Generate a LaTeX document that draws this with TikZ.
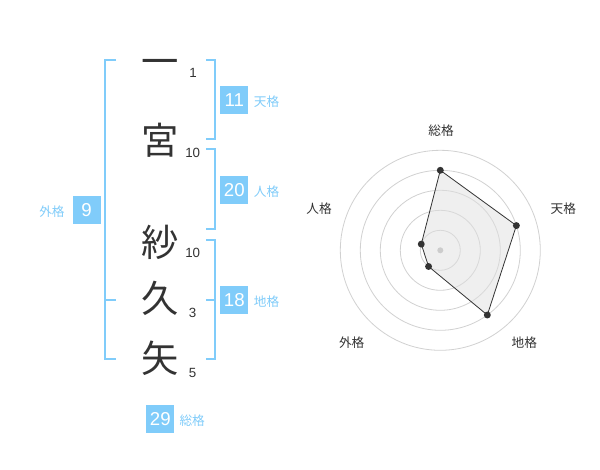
\documentclass[tikz,border=0pt]{standalone}
\usepackage{fontspec}
\setmainfont{Liberation Sans}
\newfontfamily\jpfont{Noto Sans CJK JP}
\usetikzlibrary{positioning}
\definecolor{kakublue}{RGB}{128,204,250}
\definecolor{inkgray}{RGB}{51,51,51}
\tikzset{
	name_char/.style = {
		font=\jpfont\fontsize{28}{28}\selectfont,
		text=inkgray,
		inner sep=0pt,
		text height=24.6pt,
		text depth=3.4pt
	},
	stroke_num/.style = {
		font=\fontsize{10}{10}\selectfont,
		text=inkgray,
		inner sep=0pt
	},
	kaku_box/.style = {
		fill=kakublue,
		text=white,
		inner sep=0pt,
		minimum width=21pt,
		minimum height=21pt,
		font=\fontsize{14}{14}\selectfont
	},
	kaku_label/.style = {
		font=\jpfont\fontsize{9.5}{10}\selectfont,
		text=kakublue,
		inner sep=0pt
	},
	bracket/.style = {
		draw=kakublue,
		line width=1.5pt
	},
	ring/.style = {
		draw=black!18,
		line width=0.6pt
	},
	radar_area/.style = {
		fill=black!12,
		fill opacity=0.5,
		draw=inkgray,
		line width=0.6pt
	},
	radar_dot/.style = {
		circle,
		fill=inkgray,
		inner sep=0pt,
		minimum size=5.2pt
	},
	radar_hub/.style = {
		radar_dot,
		fill=black!20,
		minimum size=4.5pt
	},
	radar_label/.style = {
		font=\jpfont\fontsize{9.5}{10}\selectfont,
		text=inkgray,
		inner sep=0pt,
		text height=8.4pt,
		text depth=1.1pt
	},
}

\begin{document}
\begin{tikzpicture}[x=0.75pt,y=-0.75pt]
\fill [white] (0,0) rectangle (600,470);
\useasboundingbox (0,0) rectangle (600,470);

\node [name_char] (c1) at (160,61) {一};
\node [name_char] (c2) at (160,140) {宮};
\node [name_char] (c3) at (160,242) {紗};
\node [name_char] (c4) at (160,298) {久};
\node [name_char] (c5) at (160,358) {矢};

\node [stroke_num] (s1) at (193,73) {1};
\node [stroke_num] (s2) at (192.7,153.3) {10};
\node [stroke_num] (s3) at (192.7,252.7) {10};
\node [stroke_num] (s4) at (192.7,313) {3};
\node [stroke_num] (s5) at (192.7,373) {5};

\draw [bracket] (116,60) -- (105,60) -- (105,359.5) -- (116,359.5);
\draw [bracket] (105,300) -- (116,300);
\draw [bracket] (206,60) -- (214.5,60) -- (214.5,139) -- (206,139);
\draw [bracket] (206,149.5) -- (214.5,149.5) -- (214.5,229.5) -- (206,229.5);
\draw [bracket] (206,240) -- (214.5,240) -- (214.5,359.5) -- (206,359.5);
\draw [bracket] (206,300) -- (214.5,300);

\node [kaku_box] (ten) at (234.3,100.3) {11};
\node [kaku_label, right=3.8pt of ten.base east, anchor=base west] (ten_l) {天格};
\node [kaku_box] (jin) at (234.3,190.3) {20};
\node [kaku_label, right=3.8pt of jin.base east, anchor=base west] (jin_l) {人格};
\node [kaku_box] (chi) at (234.3,300.3) {18};
\node [kaku_label, right=3.8pt of chi.base east, anchor=base west] (chi_l) {地格};
\node [kaku_box] (gai) at (86.5,210.3) {9};
\node [kaku_label, left=5.5pt of gai.base west, anchor=base east] (gai_l) {外格};
\node [kaku_box] (sou) at (160.3,419.2) {29};
\node [kaku_label, right=3.5pt of sou.base east, anchor=base west] (sou_l) {総格};

\coordinate (rc) at (440.3,250.3);
\draw [ring] (rc) circle [radius=15pt];
\draw [ring] (rc) circle [radius=30pt];
\draw [ring] (rc) circle [radius=45pt];
\draw [ring] (rc) circle [radius=60pt];
\draw [ring] (rc) circle [radius=75pt];

\coordinate (v_sou) at ([shift={(90:60pt)}]rc);
\coordinate (v_ten) at ([shift={(18:60pt)}]rc);
\coordinate (v_chi) at ([shift={(-54:60pt)}]rc);
\coordinate (v_gai) at ([shift={(-126:15pt)}]rc);
\coordinate (v_jin) at ([shift={(162:15pt)}]rc);
\draw [radar_area] (v_sou) -- (v_ten) -- (v_chi) -- (v_gai) -- (v_jin) -- cycle;

\node [radar_hub] (hub) at (rc) {};
\node [radar_dot] (d_sou) at (v_sou) {};
\node [radar_dot] (d_ten) at (v_ten) {};
\node [radar_dot] (d_chi) at (v_chi) {};
\node [radar_dot] (d_gai) at (v_gai) {};
\node [radar_dot] (d_jin) at (v_jin) {};

\node [radar_label] (l_sou) at (441,130.7) {総格};
\node [radar_label] (l_ten) at (563.3,208.3) {天格};
\node [radar_label] (l_chi) at (524.3,342.3) {地格};
\node [radar_label] (l_gai) at (351.7,342.3) {外格};
\node [radar_label] (l_jin) at (319,208.3) {人格};
\end{tikzpicture}
\end{document}
